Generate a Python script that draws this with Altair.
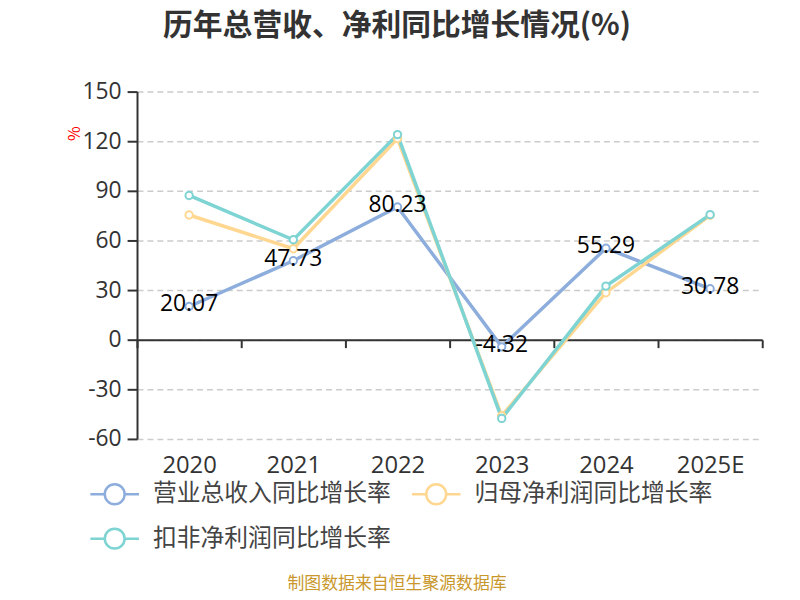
import altair as alt
import pandas as pd

years = ["2020", "2021", "2022", "2023", "2024", "2025E"]
series_names = ["营业总收入同比增长率", "归母净利润同比增长率", "扣非净利润同比增长率"]
revenue = [20.07, 47.73, 80.23, -4.32, 55.29, 30.78]
parent_profit = [75.4, 55.0, 121.6, -46.0, 28.4, 75.2]
deducted_profit = [87.2, 60.4, 124.0, -47.6, 32.4, 75.6]
colors = ["#8DADDC", "#FFD791", "#7ED3D3"]
y_ticks = [-60, -30, 0, 30, 60, 90, 120, 150]
title_text = "历年总营收、净利同比增长情况(%)"
footer_text = "制图数据来自恒生聚源数据库"

rows = []
for i, (name, vals) in enumerate(zip(series_names, [revenue, parent_profit, deducted_profit])):
    for yr, v in zip(years, vals):
        rows.append({"year": yr, "series": name, "value": v, "order": i,
                     "label": f"{v:.2f}"})
df = pd.DataFrame(rows)
rev_df = df[df["series"] == series_names[0]]

# legend is laid out column-major: order domain so rows read 1,2 / 3
legend_order = [series_names[0], series_names[2], series_names[1]]
legend_colors = [colors[0], colors[2], colors[1]]

FONT = "Noto Sans CJK SC"
NUM_FONT = "Open Sans"

x_enc = alt.X(
    "year:N", sort=years, bandPosition=0.5, title=None,
    scale=alt.Scale(type="band", paddingInner=0, paddingOuter=0),
    axis=alt.Axis(
        offset=-100, domainColor="#333333", domainWidth=2,
        tickBand="extent", tickSize=8, tickColor="#333333", tickWidth=2,
        labelFont=NUM_FONT, labelFontSize=24, labelColor="#333333",
        labelPadding=107, labelAngle=0, grid=False,
    ),
)
y_enc = alt.Y(
    "value:Q",
    scale=alt.Scale(domain=[-60, 150], nice=False, zero=False),
    axis=alt.Axis(
        values=y_ticks, labelExpr="'' + datum.value",
        title="%", titleColor="#FF0000", titleFontSize=16,
        titleFont=FONT, titleFontWeight="normal", titleX=-63, titleY=42,
        titleAlign="center", titleBaseline="middle",
        domainColor="#333333", domainWidth=2, tickSize=10, tickColor="#333333",
        tickWidth=2, labelFont=NUM_FONT, labelFontSize=23, labelColor="#333333",
        labelPadding=6, grid=True, gridColor="#CCCCCC", gridDash=[6, 4],
        gridWidth=1.5,
    ),
)

legend_path = ("M-1.225,0L-0.5,0M0.5,0L1.225,0M-0.5,0A0.5,0.5,0,1,0,0.5,0"
               "A0.5,0.5,0,1,0,-0.5,0Z")

color_scale = alt.Scale(domain=legend_order, range=legend_colors)

color_enc = alt.Color(
    "series:N", scale=color_scale,
    legend=alt.Legend(
        title=None, orient="none", legendX=-44, legendY=384, columns=2,
        columnPadding=16, rowPadding=8, padding=0,
        symbolType=legend_path, symbolSize=1600, symbolStrokeWidth=2.5,
        symbolFillColor="white", labelOffset=17, labelFont=FONT,
        labelFontSize=24, labelColor="#444444", labelLimit=400,
    ),
)

lines = alt.Chart(df).mark_line(strokeWidth=3.5).encode(
    x=x_enc, y=y_enc, color=color_enc, order="order:Q"
)
points = alt.Chart(df).mark_point(
    filled=False, fill="white", fillOpacity=1, opacity=1, size=55, strokeWidth=2
).encode(
    x=x_enc, y=y_enc,
    color=alt.Color("series:N", scale=color_scale, legend=None),
    order="order:Q",
)
labels = alt.Chart(rev_df).mark_text(
    font=NUM_FONT, fontSize=23, color="#000000", align="center", baseline="middle", dy=-2
).encode(x=x_enc, y=y_enc, text="label:N")

footer = alt.Chart(pd.DataFrame({"t": [footer_text]})).mark_text(
    font=FONT, fontSize=17, color="#C9972C", align="center", baseline="middle"
).encode(x=alt.value(262), y=alt.value(496), text="t:N")

chart = alt.layer(lines, points, labels, footer).properties(
    width=630, height=350,
    autosize=alt.AutoSizeParams(type="none"),
    padding={"left": 130, "top": 82, "right": 30, "bottom": 152},
    title=alt.TitleParams(
        text=title_text, font=FONT, fontSize=30, fontWeight="bold",
        color="#333333", anchor="middle", dx=-53, offset=40,
    ),
).configure_view(stroke=None)

chart.save("out.html", embed_options={"renderer": "svg", "actions": False})
